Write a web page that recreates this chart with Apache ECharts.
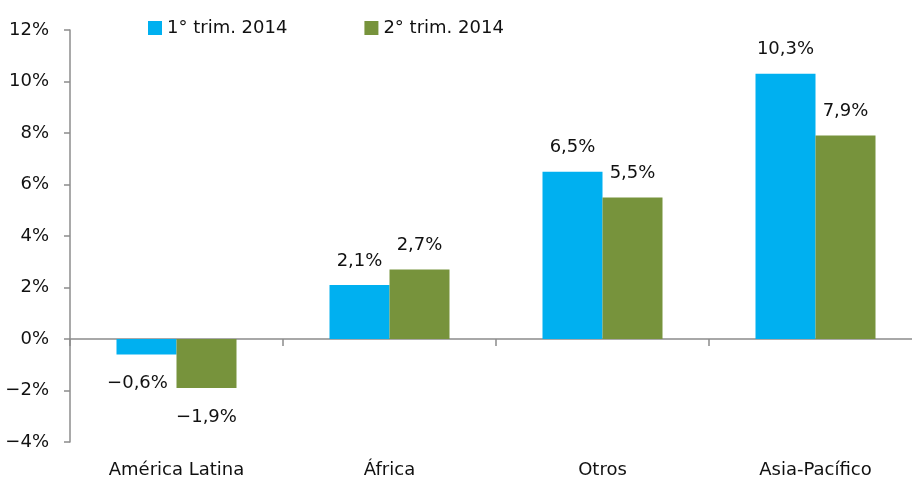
<!DOCTYPE html>
<html>
<head>
<meta charset="utf-8">
<script src="https://cdn.jsdelivr.net/npm/echarts@6/dist/echarts.min.js"></script>
<style>
html, body { margin: 0; padding: 0; background: #fff; }
#chart { width: 912px; height: 482px; }
</style>
</head>
<body>
<div id="chart"></div>
<script>
// datos
var categorias = ['América Latina', 'África', 'Otros', 'Asia-Pacífico'];
var trim1 = [-0.6, 2.1, 6.5, 10.3];
var trim2 = [-1.9, 2.7, 5.5, 7.9];
var nombres = ['1° trim. 2014', '2° trim. 2014'];

var fuente = '"DejaVu Sans", sans-serif';
var tam = 18;

function pct(v) {
	return String(v).replace('.', ',').replace('-', '−') + '%';
}

var myChart = echarts.init(document.getElementById('chart'));

function etiquetas(valores, desplazNeg) {
	return valores.map(function (v) {
		if (v < 0) {
			return { value: v, label: { position: 'bottom', distance: 20, offset: [desplazNeg, 0] } };
		}
		return { value: v, label: { position: 'top', distance: 15 } };
	});
}

var estiloLabel = {
	show: true,
	fontFamily: fuente,
	fontSize: tam,
	color: '#111',
	formatter: function (p) { return pct(p.value); }
};

option = {
	animation: false,
	legend: {
		left: 148,
		top: 19,
		padding: 0,
		itemWidth: 14,
		itemHeight: 14,
		itemGap: 77,
		icon: 'rect',
		textStyle: { fontFamily: fuente, fontSize: tam, color: '#111' },
		data: nombres
	},
	grid: {
		left: 70,
		top: 30,
		width: 852,
		height: 412,
		outerBoundsMode: 'none'
	},
	xAxis: {
		type: 'category',
		data: categorias,
		axisLine: { onZero: true, lineStyle: { color: '#8c8c8c', width: 1.5 } },
		axisTick: { show: true, length: 7, lineStyle: { color: '#8c8c8c', width: 1.5 } },
		axisLabel: { margin: 19, fontFamily: fuente, fontSize: tam, color: '#111' }
	},
	yAxis: {
		type: 'value',
		min: -4,
		max: 12,
		interval: 2,
		splitLine: { show: false },
		axisLine: { show: true, lineStyle: { color: '#8c8c8c', width: 1.5 } },
		axisTick: { show: true, length: 6, lineStyle: { color: '#8c8c8c', width: 1.5 } },
		axisLabel: {
			margin: 21,
			fontFamily: fuente,
			fontSize: tam,
			color: '#111',
			formatter: function (v) { return pct(v); }
		}
	},
	series: [
		{
			name: nombres[0],
			type: 'bar',
			data: etiquetas(trim1, -9),
			barWidth: 60,
			barGap: '0%',
			itemStyle: { color: '#00b0f0' },
			label: estiloLabel
		},
		{
			name: nombres[1],
			type: 'bar',
			data: etiquetas(trim2, 0),
			barWidth: 60,
			barGap: '0%',
			itemStyle: { color: '#77933c' },
			label: estiloLabel
		}
	]
};

myChart.setOption(option);
</script>
</body>
</html>
